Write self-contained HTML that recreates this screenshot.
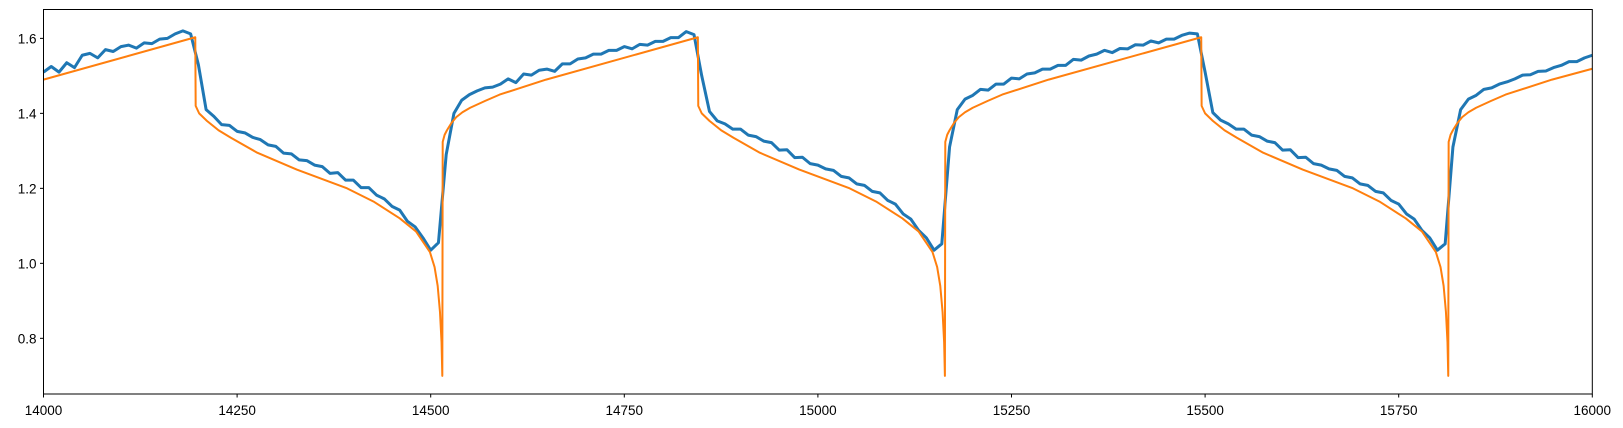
<!DOCTYPE html>
<html><head><meta charset="utf-8"><style>
body{margin:0;background:#fff;}
svg{display:block;font-family:"Liberation Sans","DejaVu Sans",sans-serif;}
</style></head><body>
<svg id="chart" width="1623" height="428" viewBox="0 0 1623 428">
<rect width="1623" height="428" fill="#fff"/>
<g id="xticks"></g>
<g id="yticks"></g>
<g id="series"></g>
<rect x="43.5" y="9.5" width="1548.8" height="384.5" fill="none" stroke="#000" stroke-width="1"/>
</svg>
<script>
const xTickValues = [14000,14250,14500,14750,15000,15250,15500,15750,16000];
const yTickValues = [0.8,1.0,1.2,1.4,1.6];
const yTickLabels = ["0.8","1.0","1.2","1.4","1.6"];
const blueStart = 14000;
const blueStep = 10;
const blueValues = [
1.51,1.525,1.51,1.535,1.522,1.555,1.56,1.548,1.57,1.565,1.578,1.582,1.574,1.588,1.586,1.598,1.60,1.612,1.62,1.612,
1.53,1.41,1.392,1.37,1.368,1.352,1.348,1.336,1.33,1.316,1.312,1.294,1.292,1.276,1.274,1.262,1.258,1.24,1.242,1.222,
1.222,1.202,1.202,1.182,1.172,1.152,1.142,1.112,1.097,1.068,1.035,1.055,1.29,1.40,1.435,1.45,1.46,1.468,1.47,1.478,
1.492,1.482,1.505,1.502,1.515,1.518,1.512,1.532,1.532,1.545,1.548,1.558,1.558,1.568,1.568,1.578,1.572,1.584,1.582,1.592,
1.592,1.602,1.602,1.618,1.61,1.50,1.405,1.38,1.372,1.358,1.358,1.342,1.338,1.326,1.322,1.302,1.303,1.282,1.283,1.266,
1.262,1.252,1.248,1.232,1.228,1.212,1.208,1.192,1.188,1.168,1.158,1.132,1.118,1.088,1.068,1.035,1.052,1.31,1.41,1.438,
1.448,1.464,1.462,1.478,1.478,1.494,1.492,1.505,1.508,1.518,1.518,1.528,1.528,1.544,1.542,1.553,1.558,1.568,1.562,1.573,
1.572,1.583,1.582,1.593,1.588,1.598,1.598,1.608,1.614,1.612,1.51,1.402,1.382,1.372,1.358,1.358,1.342,1.338,1.326,1.322,
1.302,1.303,1.282,1.283,1.266,1.262,1.252,1.248,1.232,1.228,1.212,1.208,1.192,1.188,1.168,1.158,1.132,1.118,1.088,1.068,
1.035,1.052,1.31,1.41,1.438,1.448,1.464,1.468,1.478,1.484,1.492,1.502,1.503,1.512,1.513,1.522,1.528,1.538,1.538,1.548,1.555];
const orangeX = [14000,14196,14196.5,14201,14211,14226,14242,14276,14327,14392,14426,14460,14481,14499,14505,14509,14512,14514,14515,14515.5,14518,14521,14527,14533,14541,14551,14570,14589,14649,
14845,14845.5,14850,14860,14875,14891,14925,14976,15041,15075,15109,15130,15148,15154,15158,15161,15163,15164,15164.5,15167,15170,15176,15182,15190,15200,15219,15238,15298,
15495,15495.5,15500,15510,15525,15541,15575,15626,15691,15725,15759,15780,15798,15804,15808,15811,15813,15814,15814.5,15817,15820,15826,15832,15840,15850,15869,15888,15948,16000];
const orangeY = [1.49,1.603,1.42,1.40,1.38,1.355,1.335,1.295,1.25,1.20,1.165,1.12,1.085,1.03,0.99,0.94,0.87,0.79,0.70,1.324,1.343,1.355,1.375,1.39,1.403,1.415,1.433,1.45,1.49,
1.603,1.42,1.40,1.38,1.355,1.335,1.295,1.25,1.20,1.165,1.12,1.085,1.03,0.99,0.94,0.87,0.79,0.70,1.324,1.343,1.355,1.375,1.39,1.403,1.415,1.433,1.45,1.49,
1.603,1.42,1.40,1.38,1.355,1.335,1.295,1.25,1.20,1.165,1.12,1.085,1.03,0.99,0.94,0.87,0.79,0.70,1.324,1.343,1.355,1.375,1.39,1.403,1.415,1.433,1.45,1.49,1.519];

const L=43.5,R=1592.3,T=9.5,B=394;
const xMin=14000,xMax=16000,yMin=0.6515,yMax=1.677;
function sx(v){return L+(v-xMin)/(xMax-xMin)*(R-L);}
function sy(v){return B-(v-yMin)/(yMax-yMin)*(B-T);}
const NS="http://www.w3.org/2000/svg";
const xg=document.getElementById('xticks'),yg=document.getElementById('yticks'),sg=document.getElementById('series');
xTickValues.forEach(v=>{
  const t=document.createElementNS(NS,'line');
  t.setAttribute('x1',sx(v));t.setAttribute('x2',sx(v));t.setAttribute('y1',B);t.setAttribute('y2',B+3.5);
  t.setAttribute('stroke','#000');
  
  
  xg.appendChild(t);
  const s=document.createElementNS(NS,'text');
  s.setAttribute('x',sx(v));s.setAttribute('y',B+21);s.setAttribute('text-anchor','middle');s.setAttribute('font-size','13.5');
  s.textContent=String(v);
  
  
  xg.appendChild(s);
});
yTickValues.forEach((v,i)=>{
  const t=document.createElementNS(NS,'line');
  t.setAttribute('x1',L-3.5);t.setAttribute('x2',L);t.setAttribute('y1',sy(v));t.setAttribute('y2',sy(v));
  t.setAttribute('stroke','#000');
  
  
  yg.appendChild(t);
  const s=document.createElementNS(NS,'text');
  s.setAttribute('x',L-7);s.setAttribute('y',sy(v)+5);s.setAttribute('text-anchor','end');s.setAttribute('font-size','13.5');
  s.textContent=yTickLabels[i];
  
  
  yg.appendChild(s);
});
const bp=blueValues.map((v,i)=>sx(blueStart+i*blueStep).toFixed(2)+','+sy(v).toFixed(2)).join(' ');
const b=document.createElementNS(NS,'polyline');
b.setAttribute('points',bp);b.setAttribute('fill','none');b.setAttribute('stroke','#1f77b4');b.setAttribute('stroke-width','3');b.setAttribute('stroke-linejoin','round');


sg.appendChild(b);
const op=orangeX.map((x,i)=>sx(x).toFixed(2)+','+sy(orangeY[i]).toFixed(2)).join(' ');
const o=document.createElementNS(NS,'polyline');
o.setAttribute('points',op);o.setAttribute('fill','none');o.setAttribute('stroke','#ff7f0e');o.setAttribute('stroke-width','2');o.setAttribute('stroke-linejoin','round');


sg.appendChild(o);
</script>
</body></html>
